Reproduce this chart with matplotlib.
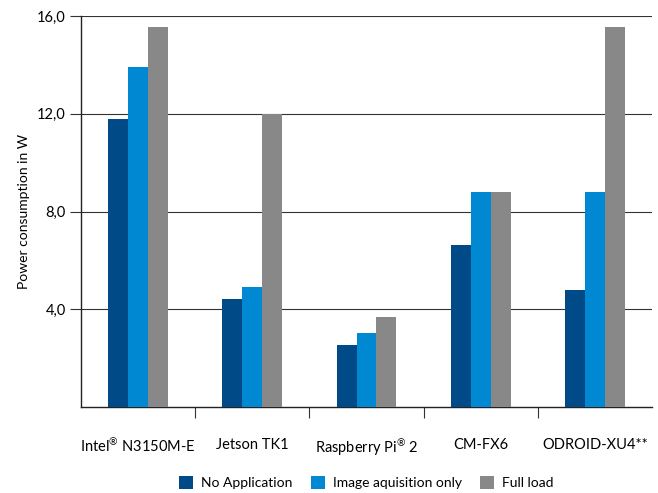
import matplotlib
matplotlib.use("Agg")
import matplotlib.pyplot as plt
import numpy as np

categories = ["Intel$^{®}$ N3150M-E", "Jetson TK1", "Raspberry Pi$^{®}$ 2", "CM-FX6", "ODROID-XU4**"]
series_names = ["No Application", "Image aquisition only", "Full load"]
no_app = [11.8, 4.4, 2.53, 6.63, 4.77]
image_acq = [13.9, 4.93, 3.02, 8.8, 8.8]
full_load = [15.55, 12.0, 3.67, 8.8, 15.55]
yticks = [4.0, 8.0, 12.0, 16.0]
ytick_labels = ["4,0", "8,0", "12,0", "16,0"]
colors = ["#004a87", "#0089d2", "#888888"]

plt.rcParams['font.family'] = ['Lato', 'DejaVu Sans']
plt.rcParams['mathtext.fontset'] = 'custom'
plt.rcParams['mathtext.rm'] = 'Lato'
plt.rcParams['mathtext.it'] = 'Lato'
plt.rcParams['mathtext.default'] = 'regular'

fig = plt.figure(figsize=(6.58, 4.93), dpi=100)
ax = fig.add_axes([81/658, 1-407/493, (652-81)/658, (407-16)/493])

x = np.arange(len(categories))
w = 0.175
for i, (vals, name, c) in enumerate(zip([no_app, image_acq, full_load], series_names, colors)):
    ax.bar(x + (i-1)*w, vals, width=w, color=c, label=name, zorder=3)

ax.set_xlim(-0.5, len(categories)-0.5)
ax.set_ylim(0, 16.0)
ax.set_yticks(yticks)
ax.set_yticklabels(ytick_labels, fontsize=10.5)
ax.yaxis.grid(True, color="#333333", linewidth=0.8, zorder=0)
ax.tick_params(axis='y', length=8, width=0.8, color="#333333", pad=3)

ax.set_xticks(x)
ax.set_xticklabels(categories, fontsize=10.5)
ax.tick_params(axis='x', length=0, pad=22)
ax.set_xticks(np.arange(0.5, len(categories)-0.5, 1.0), minor=True)
ax.tick_params(axis='x', which='minor', length=8, width=0.8, color="#333333")

for s in ["top", "right"]:
    ax.spines[s].set_visible(False)
for s in ["left", "bottom"]:
    ax.spines[s].set_color("#222222")
    ax.spines[s].set_linewidth(1.0)

ax.set_ylabel("Power consumption in W", fontsize=10, labelpad=5)

ax.legend(loc="upper center", bbox_to_anchor=(0.5, -0.145), ncol=3, frameon=False,
          fontsize=10, handlelength=1.0, handleheight=1.0, handletextpad=0.6,
          columnspacing=1.3)

fig.savefig("out.png", dpi=100)
